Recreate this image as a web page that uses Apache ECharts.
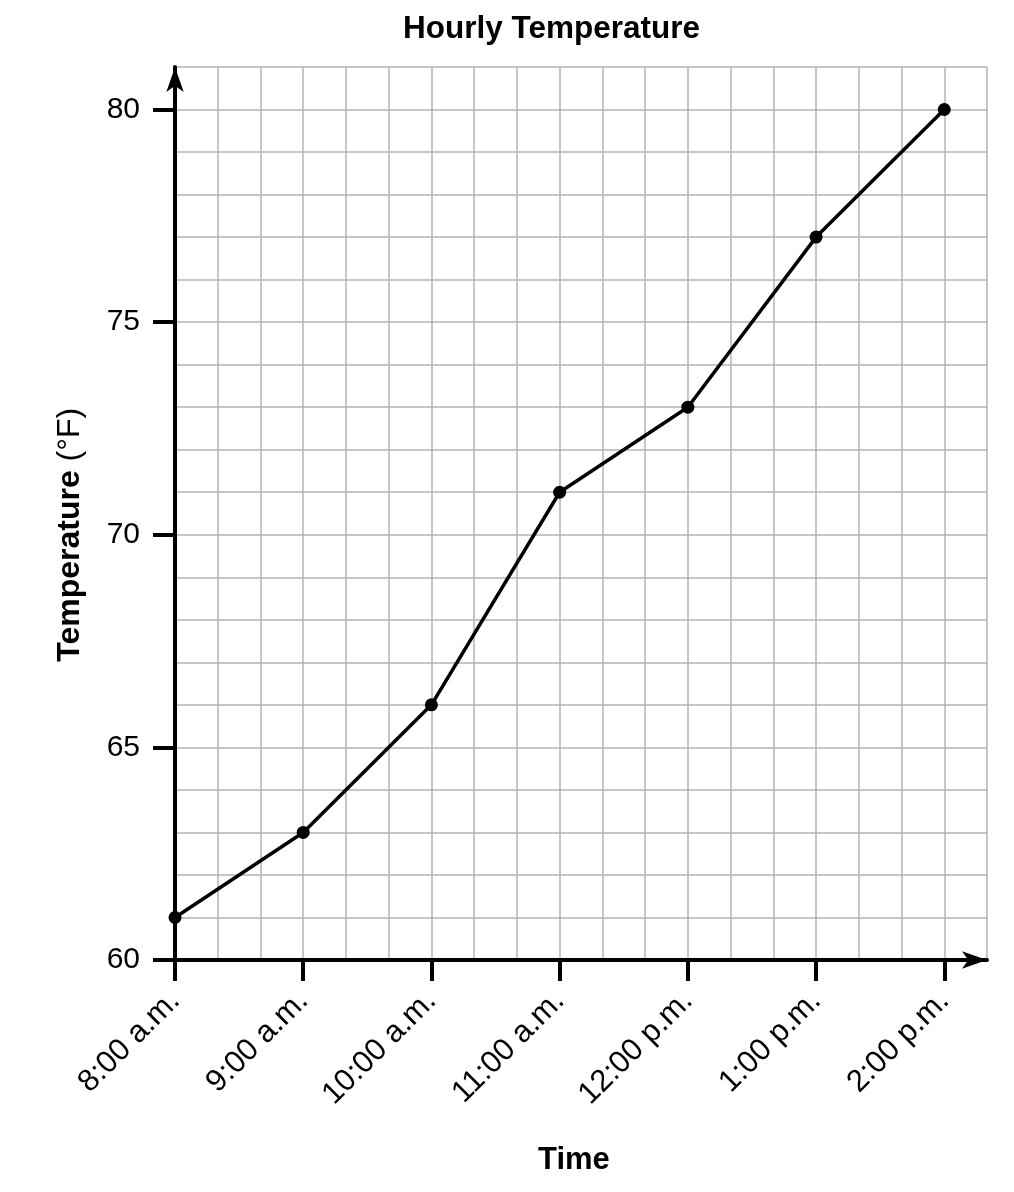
<!DOCTYPE html>
<html><head><meta charset="utf-8">
<script src="https://cdn.jsdelivr.net/npm/echarts@6/dist/echarts.min.js"></script>
<style>html,body{margin:0;padding:0;background:#fff}#c{width:1014px;height:1192px}</style>
</head><body><div id="c"></div>
<script>
// ---- data ----
const chartTitle = 'Hourly Temperature';
const xTitle = 'Time';
const yTitle = 'Temperature';
const yUnit = '(°F)';
const timeLabels = ['8:00 a.m.', '9:00 a.m.', '10:00 a.m.', '11:00 a.m.', '12:00 p.m.', '1:00 p.m.', '2:00 p.m.'];
const temperatures = [61, 63, 66, 71, 73, 77, 80];
const yTickLabels = [60, 65, 70, 75, 80];

// ---- layout ----
const W = 1014, H = 1192;
const L = 175, R = 27, T = 67, B = 232;
const subPerHour = 3;            // grid squares per hour
const yMin = yTickLabels[0], yMax = yTickLabels[yTickLabels.length - 1];
const yStep = yTickLabels[1] - yTickLabels[0];
const cols = subPerHour * (timeLabels.length - 1) + 1;  // one extra square past last hour
const rows = (yMax - yMin) + 1;                          // one extra square above max
const cellW = (W - L - R) / cols;
const cellH = (H - T - B) / rows;
const FONT = "'Liberation Sans', Arial, Helvetica, sans-serif";
const black = '#000';
const gridGray = '#b3b3b3';
const arrowSize = [13, 25];

const chart = echarts.init(document.getElementById('c'), null, {renderer: 'canvas'});
chart.setOption({
  animation: false,
  backgroundColor: '#fff',
  textStyle: {fontFamily: FONT, color: black},
  title: [
    {text: chartTitle, left: 398, top: 8, textStyle: {fontFamily: FONT, fontSize: 31.5, fontWeight: 'bold', color: black}},
    {text: xTitle, left: 533, top: 1140, textStyle: {fontFamily: FONT, fontSize: 31, fontWeight: 'bold', color: black}}
  ],
  grid: [
    {left: L, right: R, top: T, bottom: B, outerBoundsMode: 'none', containLabel: false},
    {left: L, right: R + cellW, top: T + cellH, bottom: B, outerBoundsMode: 'none', containLabel: false}
  ],
  xAxis: [
    {
      type: 'value', gridIndex: 0, min: 0, max: cols, interval: 1,
      axisLine: {show: true, onZero: false, lineStyle: {color: black, width: 4},
        symbol: ['none', 'arrow'], symbolSize: arrowSize, symbolOffset: [0, 0]},
      axisTick: {show: false}, axisLabel: {show: false},
      splitLine: {show: true, lineStyle: {color: gridGray, width: 1.5}}
    },
    {
      type: 'category', gridIndex: 1, data: timeLabels, boundaryGap: false,
      axisLine: {show: false, onZero: false},
      axisTick: {show: true, length: 21, inside: false, lineStyle: {color: black, width: 4}},
      axisLabel: {show: true, rotate: 45, interval: 0, margin: 36, fontSize: 31, color: black, fontFamily: FONT, hideOverlap: false},
      splitLine: {show: false}
    }
  ],
  yAxis: [
    {
      type: 'value', gridIndex: 0, min: yMin, max: yMin + rows, interval: 1,
      axisLine: {show: true, onZero: false, lineStyle: {color: black, width: 4},
        symbol: ['none', 'arrow'], symbolSize: arrowSize, symbolOffset: [0, 0]},
      axisTick: {show: false}, axisLabel: {show: false},
      splitLine: {show: true, lineStyle: {color: gridGray, width: 1.5}}
    },
    {
      type: 'value', gridIndex: 1, min: yMin, max: yMax, interval: yStep,
      axisLine: {show: false, onZero: false},
      axisTick: {show: true, length: 22, inside: false, lineStyle: {color: black, width: 4}},
      axisLabel: {show: true, margin: 35, fontSize: 30, color: black, fontFamily: FONT},
      splitLine: {show: false},
      name: '{b|' + yTitle + '} {n|' + yUnit + '}',
      nameLocation: 'middle', nameRotate: 90, nameGap: 89, nameMoveOverlap: false,
      nameTextStyle: {
        fontFamily: FONT, fontSize: 32, color: black,
        rich: {
          b: {fontFamily: FONT, fontSize: 32, fontWeight: 'bold', color: black},
          n: {fontFamily: FONT, fontSize: 32, color: black}
        }
      }
    }
  ],
  series: [{
    type: 'line', xAxisIndex: 1, yAxisIndex: 1,
    data: temperatures,
    symbol: 'circle', symbolSize: 13, showSymbol: true,
    lineStyle: {color: black, width: 3.5},
    itemStyle: {color: black},
    z: 5
  }]
});
</script></body></html>
